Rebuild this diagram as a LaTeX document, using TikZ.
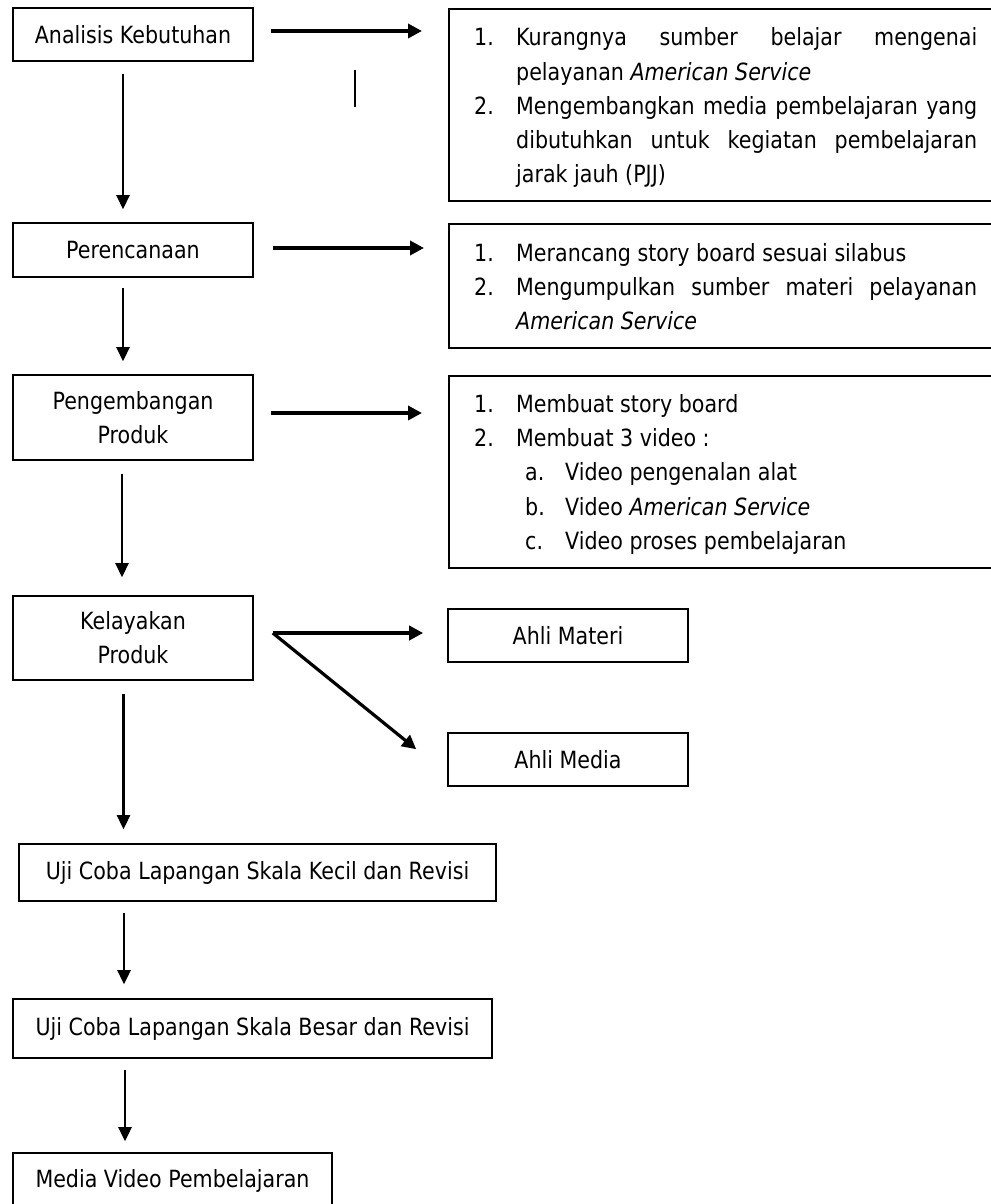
\documentclass[tikz,border=0pt]{standalone}
\usepackage{fontspec}
\setmainfont{DejaVu Sans}[FakeStretch=0.87]
\usetikzlibrary{arrows.meta}
\newcommand\bodyfont{\fontsize{23.7pt}{34.3pt}\selectfont\tolerance=10000\hyphenpenalty=10000}
\newcommand\litem[2]{\noindent\hangindent=42pt\hangafter=1\makebox[42pt][l]{#1}#2\par}
\newcommand\lsub[2]{\noindent\hangindent=91pt\hangafter=1\hspace*{51pt}\makebox[40pt][l]{#1}#2\par}
\tikzset{
  box/.style={draw, line width=1.6pt, inner sep=0pt, align=center},
  rtext/.style={anchor=north west, inner sep=0pt, text width=503pt, align=justify},
  harrow/.style={line width=3.8pt, -{Triangle[length=14pt,width=14pt]}},
  varrow/.style={line width=2.6pt, -{Triangle[length=14pt,width=13pt]}},
  darrow/.style={line width=3.2pt, -{Triangle[length=14pt,width=14pt]}},
}
\begin{document}
\begin{tikzpicture}[x=1pt,y=-1pt,font=\bodyfont]
\useasboundingbox (0,0) rectangle (990,1204);
% left column
\node[box, minimum width=240pt, minimum height=53pt] (a) at (133,34.5) {Analisis Kebutuhan};
\node[box, minimum width=240pt, minimum height=54pt] (b) at (133,250) {Perencanaan};
\node[box, minimum width=240pt, minimum height=85pt] (c) at (133,417.5) {Pengembangan\\Produk};
\node[box, minimum width=240pt, minimum height=84pt] (d) at (133,638) {Kelayakan\\Produk};
\node[box, minimum width=477pt, minimum height=57pt] (e) at (257.5,872.5) {Uji Coba Lapangan Skala Kecil dan Revisi};
\node[box, minimum width=479pt, minimum height=59pt] (f) at (252.5,1028.5) {Uji Coba Lapangan Skala Besar dan Revisi};
\node[box, minimum width=319pt, minimum height=56pt] (g) at (172.5,1181) {Media Video Pembelajaran};
% right column boxes
\node[box, anchor=north west, minimum width=560pt, minimum height=192pt] (r1) at (448,8) {};
\node[box, anchor=north west, minimum width=560pt, minimum height=124pt] (r2) at (448,223) {};
\node[box, anchor=north west, minimum width=560pt, minimum height=192pt] (r3) at (448,375) {};
\node[box, minimum width=240pt, minimum height=53pt] (m1) at (568,635.5) {Ahli Materi};
\node[box, minimum width=240pt, minimum height=53pt] (m2) at (568,759.5) {Ahli Media};
% right column texts
\node[rtext] (t1) at (474,27.5) {%
\litem{1.}{Kurangnya sumber belajar mengenai\linebreak pelayanan \textit{American Service}}%
\litem{2.}{Mengembangkan media pembelajaran yang\linebreak dibutuhkan untuk kegiatan pembelajaran\linebreak jarak jauh (PJJ)}};
\node[rtext] (t2) at (474,243) {%
\litem{1.}{Merancang story board sesuai silabus}%
\litem{2.}{Mengumpulkan sumber materi pelayanan\linebreak \textit{American Service}}};
\node[rtext] (t3) at (474,394) {%
\litem{1.}{Membuat story board}%
\litem{2.}{Membuat 3 video :}%
\lsub{a.}{Video pengenalan alat}%
\lsub{b.}{Video \textit{American Service}}%
\lsub{c.}{Video proses pembelajaran}};
% stray stroke
\draw[line width=1.3pt] (355,70) -- (355,107);
% horizontal arrows
\draw[harrow, shorten <=17pt, shorten >=26pt] ([yshift=3.5pt]a.east) -- ([yshift=3.5pt]a.east -| r1.west);
\draw[harrow, shorten <=19pt, shorten >=24pt] ([yshift=2pt]b.east) -- ([yshift=2pt]b.east -| r2.west);
\draw[harrow, shorten <=17pt, shorten >=26pt] ([yshift=4.5pt]c.east) -- ([yshift=4.5pt]c.east -| r3.west);
\draw[harrow, shorten <=19pt, shorten >=24pt] ([yshift=5pt]d.east) -- ([yshift=5pt]d.east -| m1.west);
\draw[darrow] ([xshift=19pt,yshift=5pt]d.east) -- ([xshift=-31pt,yshift=-17pt]m2.north west);
% vertical arrows
\draw[varrow, shorten <=12pt, shorten >=13pt] ([xshift=-10pt]a.south) -- ([xshift=-10pt]a.south |- b.north);
\draw[varrow, shorten <=10pt, shorten >=13pt] ([xshift=-10pt]b.south) -- ([xshift=-10pt]b.south |- c.north);
\draw[varrow, shorten <=13pt, shorten >=18pt] ([xshift=-11pt]c.south) -- ([xshift=-11pt]c.south |- d.north);
\draw[varrow, shorten <=13pt, shorten >=14pt] ([xshift=-9.5pt]d.south) -- ([xshift=-9.5pt]d.south |- e.north);
\draw[varrow, shorten <=11pt, shorten >=14pt] ([xshift=-133.5pt]e.south) -- ([xshift=-133.5pt]e.south |- f.north);
\draw[varrow, shorten <=11pt, shorten >=11pt] ([xshift=-127.5pt]f.south) -- ([xshift=-127.5pt]f.south |- g.north);
\end{tikzpicture}
\end{document}
